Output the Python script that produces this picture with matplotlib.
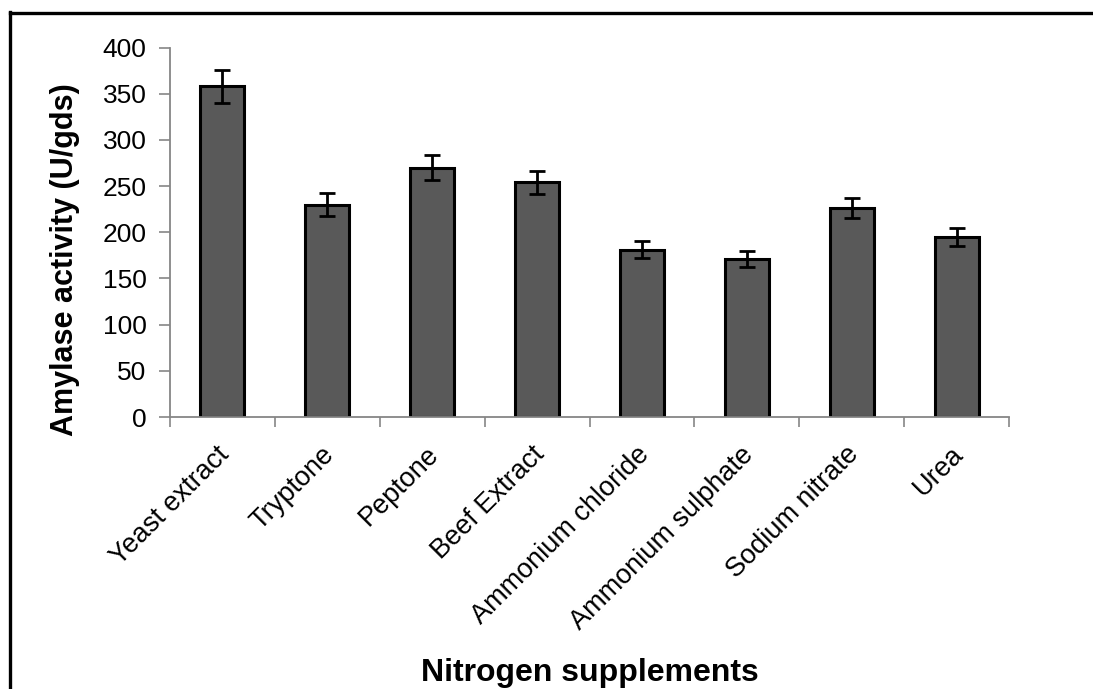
import numpy as np
import matplotlib
matplotlib.use('Agg')
import matplotlib.pyplot as plt
import matplotlib.transforms as mtransforms
from matplotlib.lines import Line2D

# data
categories = ['Yeast extract', 'Tryptone', 'Peptone', 'Beef Extract',
              'Ammonium chloride', 'Ammonium sulphate', 'Sodium nitrate', 'Urea']
activity = [358, 230, 270, 254, 181, 171, 226, 195]
errors = [18, 12, 13.5, 12.5, 9, 8.5, 11, 10]
yticks = [0, 50, 100, 150, 200, 250, 300, 350, 400]

plt.rcParams['font.family'] = ['Liberation Sans', 'DejaVu Sans']
axis_grey = '#868686'

W, H = 1093, 689
fig = plt.figure(figsize=(W / 100, H / 100), dpi=100)
ax = fig.add_axes([170 / W, 1 - 417 / H, (1009 - 170) / W, (417 - 47.5) / H])

x = np.arange(len(categories))
ax.bar(x, activity, width=0.42, color='#595959', edgecolor='black', linewidth=2.2, zorder=2)
ax.errorbar(x, activity, yerr=errors, fmt='none', ecolor='black', elinewidth=2.0,
            capsize=6, capthick=2.0, zorder=3)

ax.set_xlim(-0.5, len(categories) - 0.5)
ax.set_ylim(0, 400)
ax.set_yticks(yticks)
ax.tick_params(axis='y', direction='out', length=8, width=1.2, color=axis_grey,
               labelsize=19, pad=9)

# category labels on major ticks, tick marks at boundaries
ax.set_xticks(x)
ax.set_xticklabels(categories, rotation=45, ha='right', rotation_mode='anchor')
ax.tick_params(axis='x', which='major', length=0, labelsize=19.5, pad=9)
ax.set_xticks(np.arange(-0.5, len(categories)), minor=True)
ax.tick_params(axis='x', which='minor', direction='out', length=7, width=1.2, color=axis_grey)

# nudge the slanted labels a little down/left like the original
shift = mtransforms.ScaledTranslation(-6 / 100, -12 / 100, fig.dpi_scale_trans)
for lbl in ax.get_xticklabels():
    lbl.set_transform(lbl.get_transform() + shift)

for side in ['top', 'right']:
    ax.spines[side].set_visible(False)
for side in ['left', 'bottom']:
    ax.spines[side].set_color(axis_grey)
    ax.spines[side].set_linewidth(1.3)

fig.text(65 / W, 1 - 260 / H, 'Amylase activity (U/gds)', rotation=90,
         ha='center', va='center', fontsize=22, fontweight='bold')
fig.text(589.5 / W, 1 - 673 / H, 'Nitrogen supplements',
         ha='center', va='center', fontsize=23, fontweight='bold')

# outer frame (cut at the right and bottom)
fig.add_artist(Line2D([10 / W, 10 / W], [1 - 12 / H, 0], transform=fig.transFigure,
                      color='black', linewidth=2.4))
fig.add_artist(Line2D([10 / W, 1], [1 - 13 / H, 1 - 13 / H], transform=fig.transFigure,
                      color='black', linewidth=2.4))

fig.savefig('out.png', dpi=100)
